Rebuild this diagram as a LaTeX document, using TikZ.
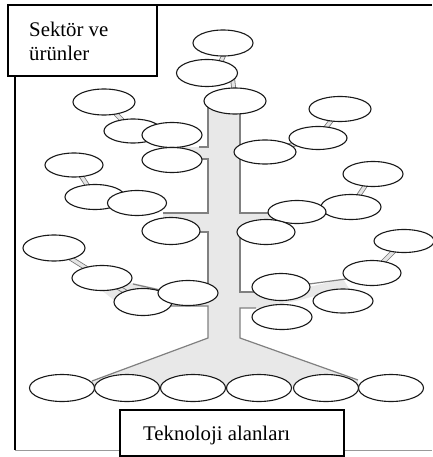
\documentclass[tikz,border=0pt]{standalone}
\usepackage{fontspec}
\setmainfont{Liberation Serif}
\usetikzlibrary{shapes.geometric}
\pgfdeclarelayer{bg}
\pgfsetlayers{bg,main}
\newcommand{\myell}[4]{\node[ell, minimum width=#3pt, minimum height=#4pt] (#1) at (#2) {};}
\begin{document}
\begin{tikzpicture}[x=1pt,y=-1pt,
  ell/.style={ellipse, draw=black!90, line width=1.1pt, fill=white, inner sep=0pt},
  band/.style={draw=black!55, line width=0.8pt, double=black!10, double distance=3.2pt},
  tline/.style={draw=black!50, line width=1.2pt},
  tfill/.style={fill=black!9},
  boxs/.style={draw=black, line width=1.3pt, fill=white, inner sep=0pt, outer sep=0pt, anchor=north west},
  lbl/.style={anchor=base west, inner sep=0pt, font=\fontsize{20.8}{24}\selectfont}]
\useasboundingbox (0,0) rectangle (432,457);

% ellipses (main layer)
\myell{e1}{223,43}{60}{26}
\myell{e2}{207,73}{61}{27}
\myell{e3}{235,101}{62}{26}
\myell{e4}{104,102}{62}{26}
\myell{e5}{133,131}{58}{24}
\myell{e6}{172,135}{60}{25}
\myell{e7}{172,160}{60}{25}
\myell{e8}{74,165}{58}{24}
\myell{e9}{95,197}{60}{25}
\myell{e10}{137,203}{59}{25}
\myell{e11}{171,231}{58}{27}
\myell{e12}{54,248}{62}{26}
\myell{e13}{102,278}{60}{25}
\myell{e14}{143,302}{58}{27}
\myell{e15}{188,293}{60}{25}
\myell{e16}{340,109}{62}{25}
\myell{e17}{318,138}{58}{23}
\myell{e18}{265,152}{62}{24}
\myell{e19}{373,174}{60}{25}
\myell{e20}{351,207}{60}{25}
\myell{e21}{297,212}{58}{23}
\myell{e22}{266,232}{58}{25}
\myell{e23}{404,241}{60}{23}
\myell{e24}{372,273}{58}{25}
\myell{e25}{343,301}{60}{24}
\myell{e26}{281,287}{58}{27}
\myell{e27}{282,317}{60}{25}
\myell{b1}{62,388}{65}{27}
\myell{b2}{127,388}{65}{27}
\myell{b3}{193,388}{65}{27}
\myell{b4}{259,388}{65}{27}
\myell{b5}{326,388}{65}{27}
\myell{b6}{391,388}{65}{27}

\begin{pgfonlayer}{bg}
  % frame
  \draw[black, line width=1.2pt] (15,70) -- (15,450);
  \draw[black, line width=1.5pt] (150,5) -- (432,5);
  \draw[black!40, line width=0.8pt] (15,450) -- (432,450);
  % trunk and branch fills
  \path[tfill] (208,101) -- (240,101) -- (240,338) -- (358,380) -- (358,388)
     -- (92,388) -- (92,381) -- (208,338) -- cycle;
  \path[tfill] (208,147) -- (165,147) -- (165,159) -- (208,159) -- cycle;
  \path[tfill] (208,213) -- (163,213) -- (163,225) -- (208,232) -- cycle;
  \path[tfill] (208,290) -- (160,289) -- (133,283) -- (100,289) -- (115,301)
     -- (150,306) -- (208,306) -- cycle;
  \path[tfill] (240,213) -- (278,213) -- (278,232) -- (240,232) -- cycle;
  \path[tfill] (240,292) -- (300,289) -- (343,279) -- (350,290) -- (315,296)
     -- (300,300) -- (262,308) -- (240,308) -- cycle;
  % bands between ellipses
  \draw[band] ([xshift=6pt]e1.center) -- ([xshift=9pt]e2.center);
  \draw[band] ([xshift=25pt]e2.center) -- (e3.center);
  \draw[band] (e4.center) -- (e5.center);
  \draw[band] (e8.center) -- (e9.center);
  \draw[band] (e12.center) -- (e13.center);
  \draw[band] (e13.center) -- (e14.center);
  \draw[band] (e16.center) -- (e17.center);
  \draw[band] (e17.center) -- (e18.center);
  \draw[band] (e19.center) -- (e20.center);
  \draw[band] (e20.center) -- (e21.center);
  \draw[band] (e23.center) -- (e24.center);
  % trunk outlines
  \draw[tline] (208,101) -- (208,147) -- (199,147);
  \draw[tline] (199,159) -- (208,159) -- (208,213) -- (163,213);
  \draw[tline] (198,232) -- (208,232) -- (208,292);
  \draw[tline] (133,284) -- (160,290);
  \draw[tline] (171,306) -- (208,306) -- (208,338) -- (92,381);
  \draw[tline] (240,101) -- (240,213) -- (269,213);
  \draw[tline] (240,236) -- (240,292) -- (254,292);
  \draw[tline] (309,284) -- (346,279);
  \draw[tline] (256,308) -- (240,308) -- (240,338) -- (358,380);
\end{pgfonlayer}

% label boxes
\node[boxs, minimum width=149pt, minimum height=71pt] (sbox) at (8,5) {};
\node[lbl] (s1) at (29,37) {Sektör ve};
\node[lbl] (s2) at (29,61) {ürünler};
\node[boxs, minimum width=224pt, minimum height=46pt] (tbox) at (120,410) {};
\node[lbl] (t1) at (143,440) {Teknoloji alanları};
\end{tikzpicture}
\end{document}
